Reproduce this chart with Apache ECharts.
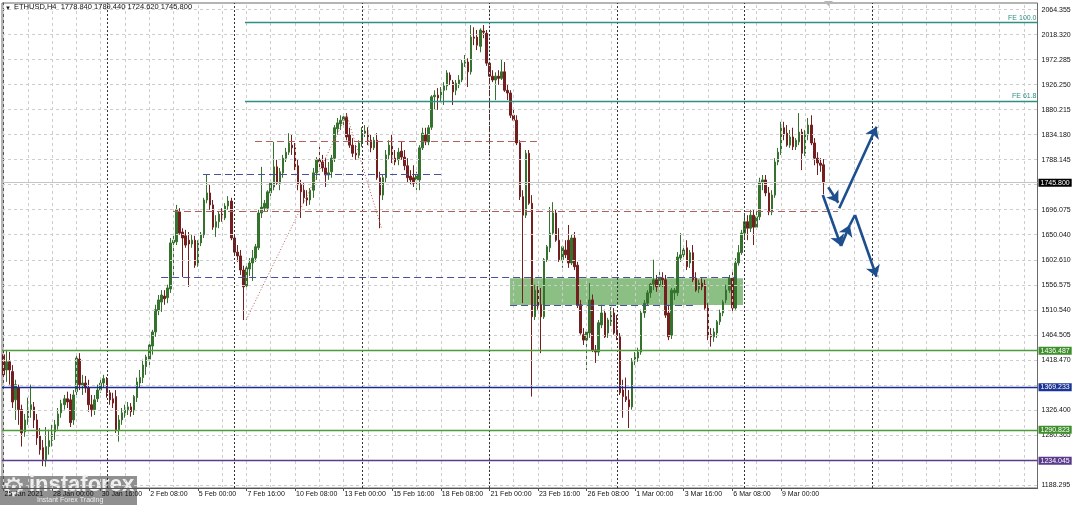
<!DOCTYPE html>
<html><head><meta charset="utf-8">
<script src="https://cdn.jsdelivr.net/npm/echarts@6/dist/echarts.min.js"></script>
<style>html,body{margin:0;padding:0;background:#fff;}#c{width:1077px;height:505px;}</style>
</head><body><div id="c"></div>
<script>
// ---------- DATA ----------
// H4 candles [open, high, low, close], first bar 25 Jan 2021 08:00
const candles = [
[1429,1444,1387,1392],[1401,1438,1379,1416],[1416,1434,1374,1401],[1398,1410,1331,1342],[1346,1383,1309,1374],
[1368,1374,1300,1328],[1328,1337,1260,1285],[1287,1320,1278,1309],[1313,1350,1300,1331],[1328,1374,1313,1337],
[1333,1342,1294,1309],[1309,1320,1263,1276],[1280,1294,1245,1254],[1258,1272,1224,1236],[1236,1296,1223,1260],
[1260,1291,1245,1271],[1271,1300,1260,1289],[1287,1309,1272,1300],[1298,1331,1291,1320],[1322,1346,1313,1339],
[1337,1355,1328,1348],[1348,1361,1331,1342],[1346,1357,1296,1304],[1309,1364,1300,1355],[1361,1432,1353,1423],
[1421,1432,1364,1374],[1372,1392,1355,1377],[1377,1390,1359,1368],[1368,1383,1324,1337],[1337,1355,1315,1328],
[1328,1355,1318,1346],[1348,1374,1342,1364],[1364,1387,1359,1377],[1377,1392,1368,1385],[1383,1388,1350,1359],
[1359,1364,1337,1346],[1348,1359,1331,1340],[1352,1364,1285,1291],[1291,1318,1269,1309],[1309,1331,1300,1322],
[1322,1337,1313,1328],[1328,1342,1318,1333],[1333,1340,1315,1324],[1326,1355,1318,1352],[1350,1387,1342,1379],
[1377,1401,1368,1387],[1387,1420,1377,1410],[1407,1429,1392,1425],[1421,1451,1410,1447],[1445,1475,1429,1471],
[1471,1521,1462,1512],[1510,1539,1502,1530],[1526,1548,1508,1539],[1537,1548,1521,1532],[1534,1558,1524,1552],
[1550,1644,1543,1635],[1635,1650,1572,1640],[1637,1705,1631,1696],[1692,1699,1650,1653],[1655,1662,1572,1644],
[1648,1659,1626,1631],[1640,1655,1554,1633],[1633,1650,1626,1640],[1640,1648,1589,1594],[1594,1640,1591,1635],
[1635,1655,1629,1651],[1650,1718,1644,1714],[1714,1760,1708,1727],[1727,1742,1696,1705],[1705,1714,1659,1664],
[1664,1686,1646,1674],[1674,1692,1662,1688],[1688,1699,1674,1681],[1681,1708,1677,1703],[1703,1721,1696,1712],
[1712,1718,1640,1644],[1644,1650,1613,1618],[1618,1631,1600,1611],[1611,1622,1576,1585],[1585,1593,1493,1554],
[1556,1596,1548,1589],[1587,1607,1574,1598],[1598,1622,1565,1607],[1607,1633,1600,1628],[1626,1696,1622,1690],
[1690,1775,1681,1701],[1699,1714,1692,1708],[1699,1732,1692,1729],[1727,1751,1721,1745],[1738,1821,1732,1775],
[1775,1788,1742,1745],[1745,1773,1732,1766],[1764,1797,1755,1791],[1791,1810,1784,1802],[1802,1837,1797,1819],
[1815,1834,1797,1810],[1810,1819,1769,1775],[1777,1788,1732,1742],[1742,1751,1681,1729],[1732,1745,1708,1718],
[1718,1732,1703,1714],[1714,1736,1705,1732],[1732,1773,1718,1764],[1764,1793,1751,1788],[1788,1812,1769,1784],
[1784,1797,1766,1773],[1773,1791,1738,1760],[1760,1784,1751,1764],[1766,1797,1755,1791],[1791,1852,1784,1847],
[1845,1865,1834,1856],[1854,1870,1843,1861],[1861,1874,1848,1867],[1867,1874,1824,1830],[1834,1847,1810,1815],
[1815,1828,1793,1800],[1800,1815,1788,1797],[1797,1824,1791,1819],[1819,1848,1812,1837],[1837,1852,1830,1841],
[1841,1848,1815,1824],[1824,1834,1802,1810],[1810,1830,1806,1824],[1824,1837,1751,1755],[1755,1766,1662,1723],
[1723,1760,1714,1755],[1755,1806,1747,1797],[1797,1824,1788,1815],[1819,1834,1782,1791],[1791,1806,1778,1784],
[1788,1810,1778,1802],[1804,1821,1788,1793],[1793,1806,1769,1777],[1777,1791,1747,1755],[1758,1769,1742,1751],
[1755,1778,1738,1745],[1751,1766,1732,1760],[1751,1815,1732,1810],[1810,1847,1806,1837],[1834,1847,1815,1821],
[1821,1852,1815,1847],[1848,1907,1843,1904],[1904,1916,1880,1907],[1907,1920,1880,1902],[1902,1922,1894,1916],
[1916,1931,1889,1924],[1924,1953,1916,1948],[1944,1949,1926,1935],[1931,1935,1889,1913],[1916,1935,1907,1929],
[1926,1944,1920,1935],[1935,1972,1931,1966],[1966,1981,1959,1972],[1968,1975,1922,1950],[1950,2036,1945,2014],
[2014,2032,1999,2012],[2014,2027,1990,1999],[1997,2030,1986,2027],[2025,2036,2012,2023],[2021,2027,1961,1966],
[1966,1972,1800,1942],[1942,1953,1931,1935],[1935,1949,1898,1942],[1942,1953,1926,1938],[1938,1972,1935,1950],
[1950,1968,1913,1916],[1916,1926,1898,1911],[1911,1916,1865,1870],[1870,1880,1858,1861],[1861,1870,1815,1819],
[1819,1824,1714,1720],[1720,1732,1524,1686],[1686,1806,1681,1800],[1800,1806,1705,1708],[1708,1723,1352,1499],
[1499,1558,1493,1548],[1548,1558,1512,1521],[1521,1552,1432,1499],[1499,1607,1495,1604],[1604,1631,1600,1628],
[1626,1701,1618,1653],[1653,1710,1650,1690],[1690,1696,1637,1640],[1640,1662,1600,1604],[1604,1631,1589,1628],
[1622,1640,1607,1613],[1640,1668,1589,1598],[1598,1650,1594,1644],[1644,1655,1585,1591],[1594,1600,1515,1521],
[1521,1530,1466,1469],[1466,1478,1447,1456],[1456,1475,1401,1471],[1469,1561,1460,1530],[1530,1540,1434,1438],
[1438,1447,1414,1434],[1434,1493,1427,1488],[1484,1521,1478,1506],[1506,1512,1460,1462],[1469,1497,1460,1493],
[1490,1517,1482,1502],[1506,1515,1466,1469],[1475,1502,1456,1466],[1462,1469,1355,1359],[1364,1383,1313,1352],
[1352,1387,1342,1346],[1346,1364,1294,1333],[1333,1423,1328,1416],[1416,1434,1410,1425],[1423,1442,1416,1434],
[1434,1512,1429,1506],[1506,1530,1497,1524],[1524,1548,1519,1543],[1543,1561,1534,1559],[1559,1604,1548,1567],
[1567,1576,1545,1554],[1558,1585,1548,1572],[1570,1581,1554,1567],[1567,1576,1497,1502],[1506,1521,1456,1462],
[1465,1552,1458,1548],[1543,1552,1530,1548],[1543,1618,1537,1609],[1607,1653,1600,1613],[1613,1626,1604,1622],
[1626,1640,1585,1591],[1598,1622,1589,1617],[1617,1631,1563,1567],[1570,1581,1545,1548],[1550,1567,1543,1561],
[1561,1570,1548,1554],[1558,1567,1512,1515],[1517,1524,1456,1462],[1466,1478,1444,1462],[1462,1478,1453,1471],
[1469,1493,1460,1490],[1490,1512,1484,1506],[1506,1530,1500,1526],[1530,1558,1524,1548],[1548,1576,1543,1570],
[1570,1581,1508,1515],[1515,1607,1512,1598],[1598,1631,1593,1617],[1617,1659,1613,1653],[1653,1690,1644,1674],
[1674,1686,1640,1662],[1662,1696,1655,1686],[1686,1696,1631,1664],[1664,1692,1659,1683],[1683,1755,1677,1747],
[1747,1760,1732,1751],[1751,1760,1721,1727],[1727,1738,1686,1692],[1692,1732,1686,1723],[1723,1791,1718,1784],
[1784,1810,1778,1802],[1802,1858,1797,1852],[1847,1858,1824,1834],[1837,1852,1812,1815],[1815,1843,1810,1830],
[1830,1847,1806,1812],[1812,1828,1806,1824],[1821,1874,1815,1839],[1839,1845,1769,1800],[1800,1843,1795,1834],
[1834,1865,1824,1852],[1852,1870,1815,1819],[1819,1828,1778,1791],[1791,1802,1760,1782],[1782,1791,1766,1778],
[1778.84,1789.44,1724.62,1745.80]
];
const yTicks = [2064.355,2018.320,1972.285,1926.250,1880.215,1834.180,1788.145,1742.110,1696.075,1650.040,
                1602.610,1556.575,1510.540,1464.505,1418.470,1372.435,1326.400,1280.365,1234.330,1188.295];
const yTicksHiddenLabel = [1742.110,1372.435,1234.330];
const levelValues = [1436.487,1369.233,1290.823,1234.045];
const lastPrice = 1745.800;
const feValues = [2040.5,1896.5];
const feNames = ['FE 100.0','FE 61.8'];
const feStartBar = 79.5;
const fePoints = [[79.9,1493],[113,1871],[124.5,1662]];
const zoneRect = {fromBar:166.8,toBar:243.5,low:1520.6,high:1569.8};
const dashedNavy = [[51.9,241.5,1570.9],[166.8,228.4,1520.6],[65.7,144.7,1761.9]];
const dashedBrown = [[82.8,176.7,1822.6],[55.8,274.8,1693.7]];
const arrowSegs = [
  [[271.6,1737.4],[274.9,1709.0],true],
  [[275.2,1698.7],[287.5,1849.0],true],
  [[269.8,1723.2],[275.8,1629.3],true],
  [[275.8,1629.3],[278.7,1668.0],true],
  [[278.7,1668.0],[280.4,1686.4],false],
  [[280.4,1686.4],[287.5,1572.7],true]
];
const weekSeparators = [34,76,118,160,202,244,286];
const header = 'ETHUSD,H4  1778.840 1789.440 1724.620 1745.800';

// ---------- BUILD ----------
const N = 341;
const startUTC = Date.UTC(2021,0,25,8);
const mon = ['Jan','Feb','Mar','Apr'];
const pad = n => (n<10?'0':'')+n;
const cats = [];
for (let i=0;i<N;i++){
  if (i < candles.length){
    const d = new Date(startUTC + i*4*3600*1000);
    cats.push(i===0 ? d.getUTCDate()+' '+mon[d.getUTCMonth()]+' '+d.getUTCFullYear()
                    : d.getUTCDate()+' '+mon[d.getUTCMonth()]+' '+pad(d.getUTCHours())+':'+pad(d.getUTCMinutes()));
  } else cats.push('');
}
const labInt = (idx) => idx % 16 === 0 && idx < candles.length;
const kdata = candles.map(([o,h,l,c]) => [o, c, Math.min(l,o,c), Math.max(h,o,c)]);

const yMax = 2076.74, yMin = 1183.66;
const F = 'Liberation Sans';
const tealC = '#2f8f82';

const gridLines = [];
yTicks.forEach(v => gridLines.push({yAxis:v,
  lineStyle:{color:'#cdcdcd',type:[3,3],width:1},
  label:{show: yTicksHiddenLabel.indexOf(v) < 0, position:'end', distance:4, formatter: v.toFixed(3),
         color:'#111', fontSize:7, fontFamily:F, padding:[2,0,0,0]}}));
for (let i=0;i<N;i+=8) gridLines.push({xAxis:i, lineStyle:{color:'#cdcdcd',type:[3,3],width:1}, label:{show:false}});
weekSeparators.forEach(i => gridLines.push({xAxis:i, lineStyle:{color:'#333',type:[2,2],width:1}, label:{show:false}}));

const levelColors = ['#4e9b3a','#1b2a90','#4e9b3a','#5b3b8c'];
const levelBg = ['#3f8f2c','#1b3596','#3f8f2c','#5b3b8c'];
const topLines = [];
levelValues.forEach((v,k) => topLines.push({yAxis:v, lineStyle:{color:levelColors[k],width:1.3,type:'solid'},
  label:{show:true, position:'end', distance:1, formatter:v.toFixed(3), color:'#fff', backgroundColor:levelBg[k],
         padding:[1,2,0,2], fontSize:7, fontFamily:F}}));
topLines.push({yAxis:lastPrice, lineStyle:{color:'#c4c4c4',width:1,type:'solid'},
  label:{show:true, position:'end', distance:1, formatter:lastPrice.toFixed(3), color:'#fff', backgroundColor:'#000',
         padding:[1,2,0,2], fontSize:7, fontFamily:F}});
feValues.forEach((v,k) => topLines.push([
  {coord:[feStartBar,v], lineStyle:{color:tealC,width:1.3,type:'solid'},
   label:{show:true, position:'insideEndTop', distance:1, formatter:feNames[k], color:tealC, fontSize:7, fontFamily:F}},
  {coord:[N-0.5,v]}]));
dashedNavy.forEach(([a,b,v]) => topLines.push([{coord:[a,v], lineStyle:{color:'#4a4f9e',width:1,type:[7,4]}},{coord:[b,v]}]));
dashedBrown.forEach(([a,b,v]) => topLines.push([{coord:[a,v], lineStyle:{color:'#b0625a',width:1,type:[7,4]}},{coord:[b,v]}]));
for (let k=0;k<fePoints.length-1;k++) topLines.push([{coord:fePoints[k], lineStyle:{color:'#b8625c',width:1,type:[1,2]}},{coord:fePoints[k+1]}]);

const arrows = arrowSegs.map(([a,b,head]) => [
  {coord:a, symbol:'none', lineStyle:{color:'#1d4f8e',width:2.6,type:'solid'}},
  {coord:b, symbol: head ? 'arrow':'none', symbolSize: 11}]);

const chart = echarts.init(document.getElementById('c'), null, {renderer:'canvas'});
chart.setOption({
  animation:false,
  backgroundColor:'#fff',
  textStyle:{fontFamily:F},
  grid:{left:2, top:3, width:1035.5, height:485, show:true, borderColor:'#6a6a6a', borderWidth:1, backgroundColor:'#fff'},
  xAxis:[
    {type:'category', data:cats, boundaryGap:true,
     axisLine:{show:true, lineStyle:{color:'#555'}},
     axisTick:{show:true, alignWithLabel:true, interval:labInt, length:3, lineStyle:{color:'#555'}},
     axisLabel:{interval:labInt, align:'left', margin:3, fontSize:7, color:'#111', fontFamily:F, padding:[0,0,0,1]},
     splitLine:{show:false}},
    {type:'value', min:-0.5, max:N-0.5, show:false}
  ],
  yAxis:{type:'value', position:'right', min:yMin, max:yMax, scale:true,
     axisLine:{show:true, lineStyle:{color:'#555'}}, axisTick:{show:false}, axisLabel:{show:false}, splitLine:{show:false}},
  series:[
    {type:'line', xAxisIndex:1, data:[[0,yMin]], showSymbol:false, lineStyle:{opacity:0}, silent:true, z:1, clip:false,
     markLine:{silent:true, symbol:'none', animation:false, data:gridLines}},
    {type:'line', xAxisIndex:1, data:[[0,yMin]], showSymbol:false, lineStyle:{opacity:0}, silent:true, z:2,
     markArea:{silent:true, itemStyle:{color:'#8cbf84', opacity:1},
       data:[[{coord:[zoneRect.fromBar, zoneRect.high]},{coord:[zoneRect.toBar, zoneRect.low]}]]}},
    {type:'candlestick', xAxisIndex:0, data:kdata, barWidth:2, z:3,
     itemStyle:{color:'#35722e', color0:'#731f1f', borderColor:'#35722e', borderColor0:'#731f1f', borderWidth:1}},
    {type:'line', xAxisIndex:1, data:[[0,yMin]], showSymbol:false, lineStyle:{opacity:0}, silent:true, z:4, clip:false,
     markLine:{silent:true, symbol:'none', animation:false, label:{show:false}, data:topLines}},
    {type:'line', xAxisIndex:1, data:[[0,yMin]], showSymbol:false, lineStyle:{opacity:0}, silent:true, z:5, clip:false,
     markLine:{silent:true, animation:false, label:{show:false}, data:arrows}}
  ],
  graphic:[
    {type:'text', left:5, top:5, z:100, style:{text:'\u25BC', font:'6px '+F, fill:'#111'}},
    {type:'text', left:14, top:3, z:100, style:{text:header, font:'7.5px '+F, fill:'#111'}},
    {type:'polygon', z:100, shape:{points:[[824,1],[833,1],[828.5,6]]}, style:{fill:'#b5b5b5'}},
    {type:'group', left:0, top:474, z:100, children:[
      {type:'rect', shape:{x:0,y:0,width:137,height:31}, style:{fill:'rgba(120,120,120,0.82)'}},
      {type:'text', x:2, y:0, style:{text:'\u2699', font:'26px DejaVu Sans', fill:'#ececec'}},
      {type:'text', x:29, y:-2, style:{text:'instaforex', font:'bold 22px '+F, fill:'#f0f0f0'}},
      {type:'text', x:37, y:21, style:{text:'Instant Forex Trading', font:'7px '+F, fill:'#eeeeee'}}
    ]}
  ]
});
</script></body></html>
